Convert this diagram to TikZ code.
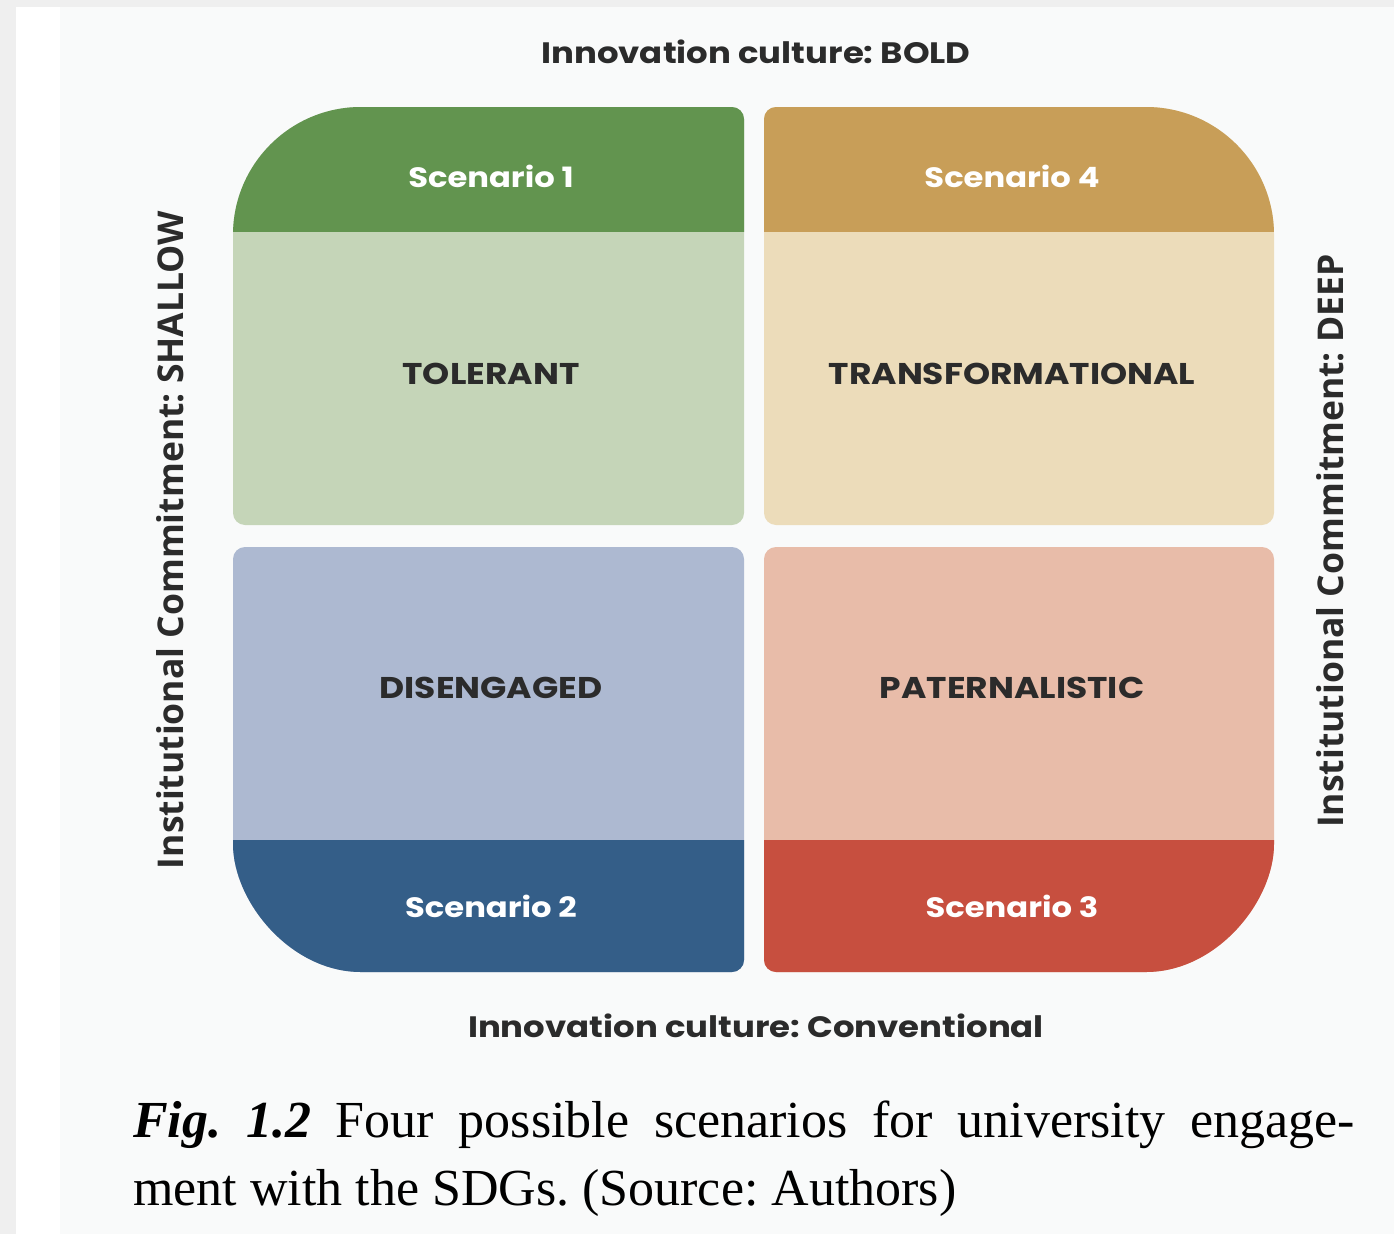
\documentclass[tikz,border=0pt]{standalone}
\usepackage{fontspec}
\usepackage{xcolor}
\setmainfont{Liberation Serif}
\newfontfamily\geofont{Poppins}[FakeStretch=1.15]
\newfontfamily\sidefont{Open Sans}
\frenchspacing

\definecolor{pagegray}{HTML}{EFEFEF}
\definecolor{offwhite}{HTML}{F9FAFA}
\definecolor{labelgray}{HTML}{2B2B2B}
\definecolor{greendark}{HTML}{62944F}
\definecolor{greenlight}{HTML}{C5D5B8}
\definecolor{ochredark}{HTML}{C89E58}
\definecolor{ochrelight}{HTML}{ECDCBA}
\definecolor{bluedark}{HTML}{345E88}
\definecolor{bluelight}{HTML}{ADB9D1}
\definecolor{reddark}{HTML}{C74F3F}
\definecolor{redlight}{HTML}{E8BCA9}

% quadrant outlines
\newcommand{\quadTL}{(233,513) -- (233,235) .. controls (233,164.3) and (290.3,107) .. (361,107) -- (732,107) .. controls (738.6,107) and (744,112.4) .. (744,119) -- (744,513) .. controls (744,519.6) and (738.6,525) .. (732,525) -- (245,525) .. controls (238.4,525) and (233,519.6) .. (233,513) -- cycle}
\newcommand{\quadTR}{(764,119) .. controls (764,112.4) and (769.4,107) .. (776,107) -- (1146,107) .. controls (1216.7,107) and (1274,164.3) .. (1274,235) -- (1274,513) .. controls (1274,519.6) and (1268.6,525) .. (1262,525) -- (776,525) .. controls (769.4,525) and (764,519.6) .. (764,513) -- cycle}
\newcommand{\quadBL}{(233,559) .. controls (233,552.4) and (238.4,547) .. (245,547) -- (732,547) .. controls (738.6,547) and (744,552.4) .. (744,559) -- (744,960) .. controls (744,966.6) and (738.6,972) .. (732,972) -- (361,972) .. controls (290.3,972) and (233,901.3) .. (233,844) -- cycle}
\newcommand{\quadBR}{(764,559) .. controls (764,552.4) and (769.4,547) .. (776,547) -- (1262,547) .. controls (1268.6,547) and (1274,552.4) .. (1274,559) -- (1274,844) .. controls (1274,901.3) and (1216.7,972) .. (1146,972) -- (776,972) .. controls (769.4,972) and (764,966.6) .. (764,960) -- cycle}

\begin{document}
\begin{tikzpicture}[x=1pt,y=1pt,yscale=-1,
  axislabel/.style={font=\geofont\bfseries\fontsize{29.5}{34}\selectfont,text=labelgray,inner sep=0pt},
  sidelabel/.style={font=\sidefont\bfseries\fontsize{35.5}{40}\selectfont,text=labelgray,inner sep=0pt,rotate=90},
  bandlabel/.style={font=\geofont\bfseries\fontsize{28}{32}\selectfont,text=white,inner sep=0pt},
  quadlabel/.style={font=\geofont\bfseries\fontsize{30}{34}\selectfont,text=labelgray,inner sep=0pt},
  captionline/.style={font=\fontsize{52}{68}\selectfont,text=black,inner sep=0pt,anchor=base west}]

\useasboundingbox (0,0) rectangle (1394,1234);
% page
\fill[pagegray] (0,0) rectangle (1394,1234);
\fill[white] (16,7) rectangle (1394,1234);
\fill[offwhite] (60,7) rectangle (1394,1234);

% quadrants
\fill[greenlight] \quadTL;
\begin{scope}
\clip \quadTL;
\fill[greendark] (220,100) rectangle (750,232);
\end{scope}
\fill[ochrelight] \quadTR;
\begin{scope}
\clip \quadTR;
\fill[ochredark] (760,100) rectangle (1280,232);
\end{scope}
\fill[bluelight] \quadBL;
\begin{scope}
\clip \quadBL;
\fill[bluedark] (220,840) rectangle (750,980);
\end{scope}
\fill[redlight] \quadBR;
\begin{scope}
\clip \quadBR;
\fill[reddark] (760,840) rectangle (1280,980);
\end{scope}

% labels
\node[bandlabel] (scen1) at (491,176) {Scenario 1};
\node[bandlabel] (scen4) at (1012,176) {Scenario 4};
\node[quadlabel] (tolerant) at (491,374) {TOLERANT};
\node[quadlabel] (transf) at (1012,374) {TRANSFORMATIONAL};
\node[quadlabel] (diseng) at (491,688) {DISENGAGED};
\node[quadlabel] (patern) at (1012,688) {PATERNALISTIC};
\node[bandlabel] (scen2) at (491,906) {Scenario 2};
\node[bandlabel] (scen3) at (1012,906) {Scenario 3};

\node[axislabel] (boldax) at (756,52) {Innovation culture: BOLD};
\node[axislabel] (convax) at (756,1026) {Innovation culture: Conventional};
\node[sidelabel] (shallow) at (170,540) {Institutional Commitment: SHALLOW};
\node[sidelabel] (deep) at (1330,541) {Institutional Commitment: DEEP};

% caption
\node[captionline] (capA) at (133,1137) {\makebox[1222pt][s]{\textbf{\textit{Fig. 1.2}} Four possible scenarios for university engage-}};
\node[captionline] (capB) at (133,1205) {ment with the SDGs. (Source: Authors)};

\end{tikzpicture}
\end{document}
